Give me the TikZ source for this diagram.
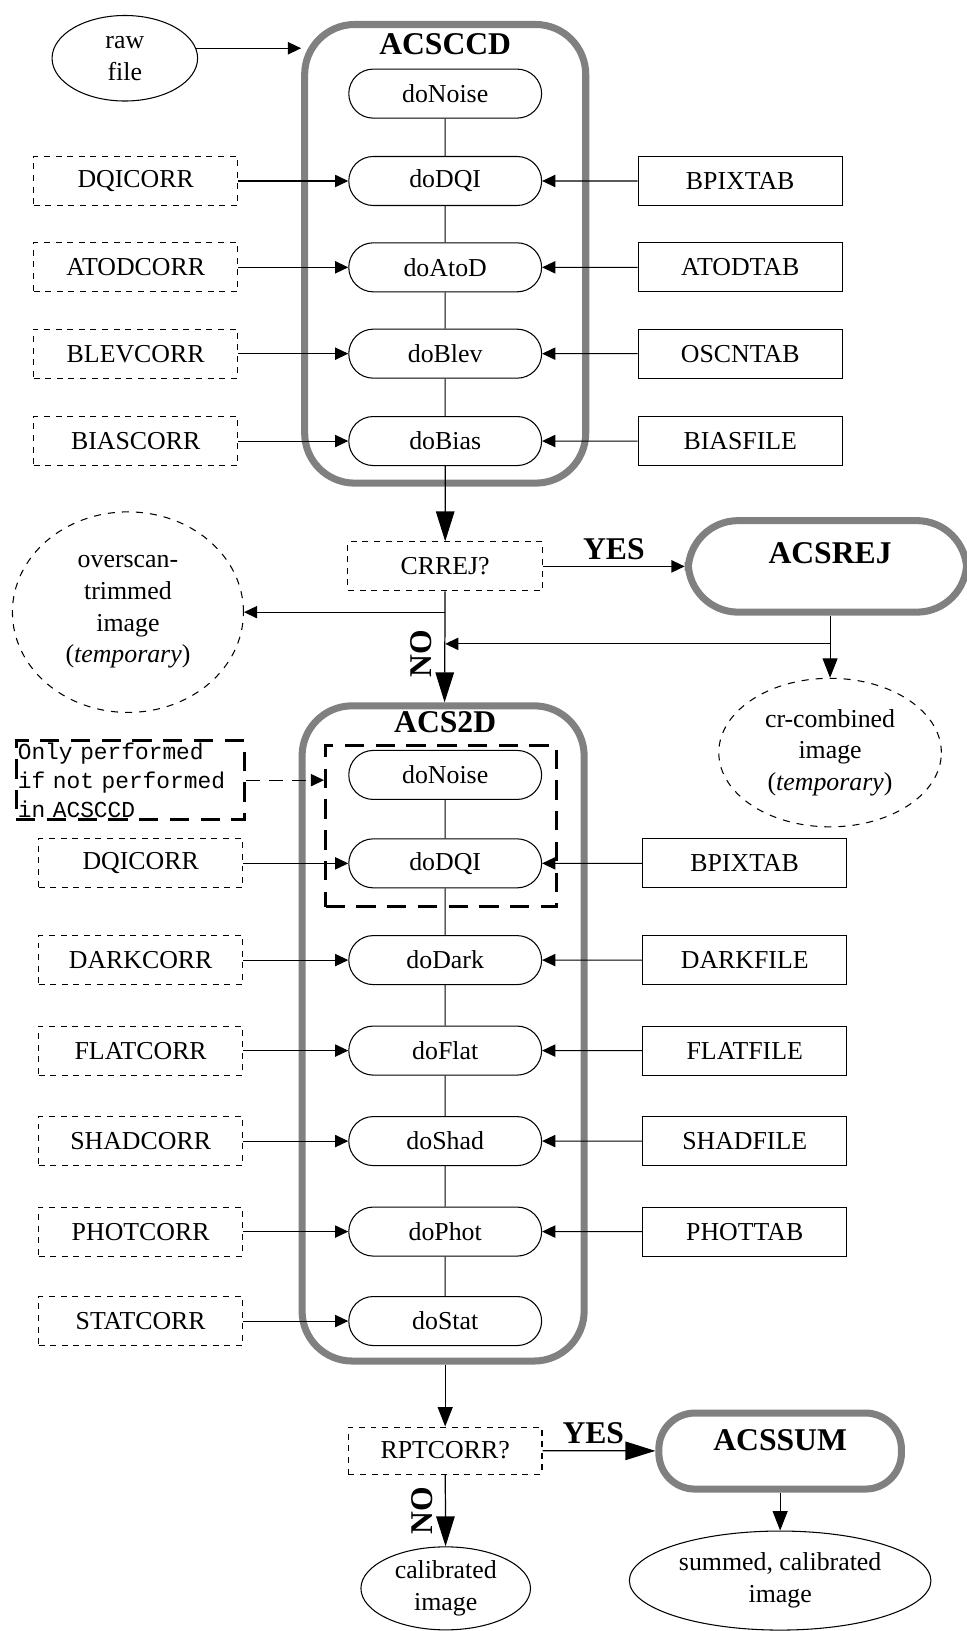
\documentclass[tikz,border=0pt]{standalone}
\usepackage{fontspec}
\setmainfont{Liberation Serif}
\setmonofont{Liberation Mono}
\usepackage{tikz}
\usetikzlibrary{arrows.meta,positioning,shapes.geometric,shapes.misc}
\definecolor{ink}{RGB}{0,0,0}
\definecolor{stagegray}{RGB}{128,128,128}

\begin{document}
\begin{tikzpicture}[
    x=0.0208cm, y=-0.0208cm,
    every node/.style={font=\fontsize{14.7}{18}\selectfont},
    pill/.style={draw=ink, rounded rectangle, minimum width=4.09cm, minimum height=0.98cm,
                 fill=white, line width=0.6pt},
    corrsw/.style={draw=ink, dash pattern=on 3.4pt off 3.2pt, minimum width=4.08cm,
                   minimum height=0.98cm, line width=0.6pt},
    reftab/.style={draw=ink, minimum width=4.08cm, minimum height=0.98cm, line width=0.6pt},
    stagebox/.style={draw=stagegray, rounded corners=1cm, line width=4pt},
    stagename/.style={font=\fontsize{18}{21}\selectfont\bfseries},
    datafile/.style={draw=ink, ellipse, inner sep=0pt, align=center, line width=0.6pt},
    tempfile/.style={datafile, dash pattern=on 4pt off 4pt},
    redobox/.style={draw=ink, line width=1.7pt, dash pattern=on 11pt off 6.5pt},
    remark/.style={redobox, font=\fontsize{13}{16.5}\selectfont\ttfamily, align=left,
                   text width=4.5cm, inner xsep=1pt, inner ysep=1pt},
    link/.style={draw=ink, line width=0.6pt},
    arr/.style={-{Triangle[length=7.5pt,width=7pt]}, link},
    midarr/.style={-{Triangle[length=11pt,width=8.5pt]}, link},
    bigarr/.style={-{Triangle[length=17pt,width=10.5pt]}, link, line width=0.7pt}
]
\useasboundingbox (0,0) rectangle (929,1568);

% ACSCCD
\node[stagebox, minimum width=5.62cm, minimum height=9.17cm] (acsccd) at (428,244) {};
\node[stagename] (acsccdname) at (428,42) {ACSCCD};
\node[datafile, minimum width=2.91cm, minimum height=1.71cm] (rawfile) at (120,56) {raw\\file};
\node[pill] (noise1) at (428,90) {doNoise};
\node[pill] (dqi1) at (428,174) {doDQI};
\node[pill] (atod1) at (428,257) {doAtoD};
\node[pill] (blev1) at (428,340) {doBlev};
\node[pill] (bias1) at (428,424) {doBias};
\node[corrsw, left=2.2cm of dqi1] (dqicorr1) {DQICORR};
\node[corrsw, left=2.2cm of atod1] (atodcorr) {ATODCORR};
\node[corrsw, left=2.2cm of blev1] (blevcorr) {BLEVCORR};
\node[corrsw, left=2.2cm of bias1] (biascorr) {BIASCORR};
\node[reftab, right=1.91cm of dqi1] (bpixtab1) {BPIXTAB};
\node[reftab, right=1.91cm of atod1] (atodtab) {ATODTAB};
\node[reftab, right=1.91cm of blev1] (oscntab) {OSCNTAB};
\node[reftab, right=1.91cm of bias1] (biasfile) {BIASFILE};

\draw[arr] (rawfile.8) -- (rawfile.8 -| acsccd.west);
\draw[link] (noise1) -- (dqi1) (dqi1) -- (atod1) (atod1) -- (blev1) (blev1) -- (bias1);
\draw[arr] (dqicorr1) -- (dqi1);
\draw[arr] (atodcorr) -- (atod1);
\draw[arr] (blevcorr) -- (blev1);
\draw[arr] (biascorr) -- (bias1);
\draw[arr] (bpixtab1) -- (dqi1);
\draw[arr] (atodtab) -- (atod1);
\draw[arr] (oscntab) -- (blev1);
\draw[arr] (biasfile) -- (bias1);

% cosmic ray rejection
\node[corrsw, minimum width=3.89cm] (crrej) at (428,544.5) {CRREJ?};
\node[stagebox, minimum width=5.57cm, minimum height=1.83cm] (acsrej) at (795.5,544.5) {};
\node[stagename] (acsrejname) at (798,532) {ACSREJ};
\node[tempfile, minimum width=4.62cm, minimum height=4.01cm] (overscan) at (123,588.5)
    {overscan-\\trimmed\\image\\(\textit{temporary})};
\node[tempfile, minimum width=4.45cm, minimum height=2.97cm] (crcomb) at (798,723.5)
    {cr-combined\\image\\(\textit{temporary})};
\coordinate (rejsplit) at (798,619);
\coordinate (rejmerge) at (428,619);

\draw[bigarr] (bias1) -- (crrej);
\draw[arr] (crrej) -- node[stagename, above] (yes1) {YES} (acsrej);
\draw[arr] (crrej.south |- overscan.east) -- (overscan);
\draw[midarr] (crcomb.north |- acsrej.south) -- (crcomb);
\draw[arr] (rejsplit) -- (rejmerge);

% ACS2D
\node[stagebox, minimum width=5.64cm, minimum height=13.1cm] (acs2d) at (426,993.5) {};
\node[stagename] (acs2dname) at (428,694) {ACS2D};
\node[redobox, minimum width=4.62cm, minimum height=3.22cm] (redo) at (424,794.5) {};
\node[remark, anchor=west] (onlynote) at (14,750) {Only performed\\if not performed\\in ACSCCD};
\node[pill] (noise2) at (428,745) {doNoise};
\node[pill] (dqi2) at (428,830) {doDQI};
\node[pill] (dark2) at (428,923) {doDark};
\node[pill] (flat2) at (428,1010) {doFlat};
\node[pill] (shad2) at (428,1097) {doShad};
\node[pill] (phot2) at (428,1184) {doPhot};
\node[pill] (stat2) at (428,1270) {doStat};
\node[corrsw, left=2.1cm of dqi2] (dqicorr2) {DQICORR};
\node[corrsw, left=2.1cm of dark2] (darkcorr) {DARKCORR};
\node[corrsw, left=2.1cm of flat2] (flatcorr) {FLATCORR};
\node[corrsw, left=2.1cm of shad2] (shadcorr) {SHADCORR};
\node[corrsw, left=2.1cm of phot2] (photcorr) {PHOTCORR};
\node[corrsw, left=2.1cm of stat2] (statcorr) {STATCORR};
\node[reftab, right=2.0cm of dqi2] (bpixtab2) {BPIXTAB};
\node[reftab, right=2.0cm of dark2] (darkfile) {DARKFILE};
\node[reftab, right=2.0cm of flat2] (flatfile) {FLATFILE};
\node[reftab, right=2.0cm of shad2] (shadfile) {SHADFILE};
\node[reftab, right=2.0cm of phot2] (phottab) {PHOTTAB};

\draw[bigarr] (crrej) -- node[stagename, rotate=90, anchor=south, inner sep=7pt, pos=0.56] (no1) {NO} (acs2d);
\draw[arr, dash pattern=on 8pt off 5pt] (onlynote.east) -- (onlynote.east -| redo.west);
\draw[link] (noise2) -- (dqi2) (dqi2) -- (dark2) (dark2) -- (flat2) (flat2) -- (shad2)
    (shad2) -- (phot2) (phot2) -- (stat2);
\draw[arr] (dqicorr2) -- (dqi2);
\draw[arr] (darkcorr) -- (dark2);
\draw[arr] (flatcorr) -- (flat2);
\draw[arr] (shadcorr) -- (shad2);
\draw[arr] (photcorr) -- (phot2);
\draw[arr] (statcorr) -- (stat2);
\draw[arr] (bpixtab2) -- (dqi2);
\draw[arr] (darkfile) -- (dark2);
\draw[arr] (flatfile) -- (flat2);
\draw[arr] (shadfile) -- (shad2);
\draw[arr] (phottab) -- (phot2);

% repeat-obs sum
\node[corrsw, minimum width=3.87cm, minimum height=0.94cm] (rptcorr) at (428,1394.5) {RPTCORR?};
\node[stagebox, rounded corners=0.72cm, minimum width=4.85cm, minimum height=1.52cm] (acssum) at (750,1395) {};
\node[stagename] (acssumname) at (750,1385) {ACSSUM};
\node[datafile, minimum width=3.39cm, minimum height=1.66cm] (calib) at (428.5,1527) {calibrated\\image};
\node[datafile, minimum width=6.03cm, minimum height=1.98cm] (summed) at (750,1519.5) {summed, calibrated\\image};

\draw[midarr] (rptcorr.north |- acs2d.south) -- (rptcorr);
\draw[bigarr] (rptcorr) -- node[stagename, above, pos=0.45] (yes2) {YES} (acssum);
\draw[bigarr] (rptcorr) -- node[stagename, rotate=90, anchor=south, inner sep=7pt] (no2) {NO} (calib);
\draw[midarr] (acssum) -- (summed);
\end{tikzpicture}
\end{document}
